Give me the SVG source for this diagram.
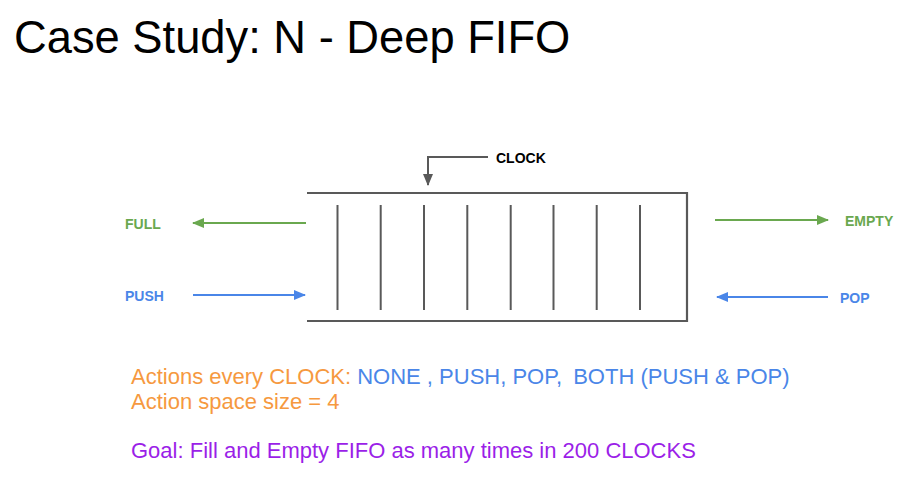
<svg xmlns="http://www.w3.org/2000/svg" width="924" height="500" viewBox="0 0 924 500">
<style>
.t{font-family:"Liberation Sans",Arial,sans-serif}
.lbl{font-family:"Liberation Sans",Arial,sans-serif;font-weight:bold;font-size:14px}
.box{fill:none;stroke:#595959;stroke-width:2.2}
.cell{stroke:#595959;stroke-width:2}
.g{stroke:#6aa84f;stroke-width:2;fill:none}
.b{stroke:#4a86e8;stroke-width:2;fill:none}
.k{stroke:#595959;stroke-width:2;fill:none}
</style>
<defs>
<marker id="ag" viewBox="0 0 12 10" refX="11" refY="5" markerWidth="12" markerHeight="10" markerUnits="userSpaceOnUse" orient="auto"><path d="M0,0 L12,5 L0,10 Z" fill="#6aa84f"/></marker>
<marker id="ab" viewBox="0 0 12 10" refX="11" refY="5" markerWidth="12" markerHeight="10" markerUnits="userSpaceOnUse" orient="auto"><path d="M0,0 L12,5 L0,10 Z" fill="#4a86e8"/></marker>
<marker id="ak" viewBox="0 0 12 10" refX="11" refY="5" markerWidth="12" markerHeight="10" markerUnits="userSpaceOnUse" orient="auto"><path d="M0,0 L12,5 L0,10 Z" fill="#595959"/></marker>
</defs>
<rect width="924" height="500" fill="#ffffff"/>
<text class="t" x="14" y="53" font-size="45.3" fill="#000">Case Study: N - Deep FIFO</text>
<g id="fifo">
<path class="box" d="M307,193 L687,193 L687,321 L307,321"/>
<line class="cell" x1="337.5" y1="205" x2="337.5" y2="310"/>
<line class="cell" x1="380.7" y1="205" x2="380.7" y2="310"/>
<line class="cell" x1="424" y1="205" x2="424" y2="310"/>
<line class="cell" x1="467.3" y1="205" x2="467.3" y2="310"/>
<line class="cell" x1="510.7" y1="205" x2="510.7" y2="310"/>
<line class="cell" x1="553.5" y1="205" x2="553.5" y2="310"/>
<line class="cell" x1="596.7" y1="205" x2="596.7" y2="310"/>
<line class="cell" x1="640" y1="205" x2="640" y2="310"/>
</g>
<g id="clock"><text class="lbl" x="496" y="163" fill="#000">CLOCK</text></g>
<g id="full"><text class="lbl" x="125" y="229" fill="#6aa84f">FULL</text></g>
<g id="push"><text class="lbl" x="125" y="301" fill="#4a86e8">PUSH</text></g>
<g id="empty"><text class="lbl" x="845" y="226" fill="#6aa84f">EMPTY</text></g>
<g id="pop"><text class="lbl" x="840" y="303" fill="#4a86e8">POP</text></g>
<g id="connectors">
<path class="k" d="M488,157 L428,157 L428,185" marker-end="url(#ak)"/>
<line class="g" x1="306" y1="223" x2="193" y2="223" marker-end="url(#ag)"/>
<line class="b" x1="193" y1="295" x2="305" y2="295" marker-end="url(#ab)"/>
<line class="g" x1="715" y1="220" x2="828" y2="220" marker-end="url(#ag)"/>
<line class="b" x1="828" y1="297" x2="717" y2="297" marker-end="url(#ab)"/>
</g>
<text class="t" font-size="22" fill="#f6993f"><tspan x="131" y="383.5">Actions every CLOCK: <tspan fill="#4a86e8">NONE , PUSH, POP,</tspan><tspan fill="#4a86e8" dx="11">BOTH (PUSH &amp; POP)</tspan></tspan><tspan x="131" y="409">Action space size = 4</tspan></text>
<text class="t" x="131" y="458" font-size="22" fill="#9b1fe8">Goal: Fill and Empty FIFO as many times in 200 CLOCKS</text>
</svg>
